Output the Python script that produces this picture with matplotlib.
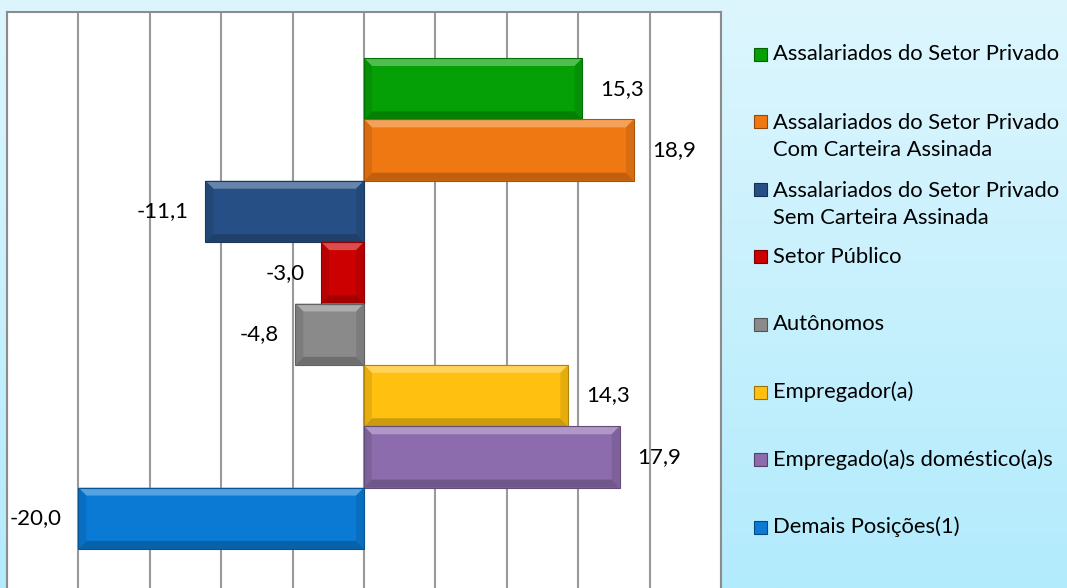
import numpy as np
import matplotlib
matplotlib.use("Agg")
import matplotlib.pyplot as plt
from matplotlib.patches import Polygon
from matplotlib import colors as mcolors

# dados (variação %)
categorias = ["Assalariados do Setor Privado",
              "Assalariados do Setor Privado\nCom Carteira Assinada",
              "Assalariados do Setor Privado\nSem Carteira Assinada",
              "Setor Público",
              "Autônomos",
              "Empregador(a)",
              "Empregado(a)s doméstico(a)s",
              "Demais Posições(1)"]
valores = [15.3, 18.9, -11.1, -3.0, -4.8, 14.3, 17.9, -20.0]
cores = ["#05A005", "#F07812", "#265085", "#CC0000",
         "#8A8A8A", "#FFC010", "#8C6CAC", "#0A7AD5"]
ticks_x = [-25, -20, -15, -10, -5, 0, 5, 10, 15, 20, 25]

plt.rcParams['font.family'] = ['Lato', 'DejaVu Sans']

W, H = 1067, 588
fig = plt.figure(figsize=(W / 100, H / 100), dpi=100)

# fundo em degradê
bg = fig.add_axes([0, 0, 1, 1], zorder=-10)
grad = np.linspace(0, 1, 256).reshape(-1, 1)
cmap = mcolors.LinearSegmentedColormap.from_list("bg", ["#DDF6FE", "#B2EBFC"])
bg.imshow(grad, aspect="auto", cmap=cmap, extent=[0, 1, 0, 1], origin="upper")
bg.axis("off")

# área do gráfico
left, right, top, bottom = 7, 721, 12, 595
ax = fig.add_axes([left / W, (H - bottom) / H, (right - left) / W, (bottom - top) / H])
ax.set_facecolor("white")

y = np.arange(len(valores))
ax.barh(y, valores, height=1.0, color=cores, zorder=3)

# efeito de chanfro (bevel)
bx = 0.55
by = 0.13
for yi, v, c in zip(y, valores, cores):
    rgb = np.array(mcolors.to_rgb(c))
    claro = np.clip(rgb + (1 - rgb) * 0.3, 0, 1)
    escuro = rgb * 0.8
    medio = rgb * 0.9
    x0, x1 = min(0, v), max(0, v)
    y0, y1 = yi - 0.5, yi + 0.5
    topo = [(x0, y0), (x1, y0), (x1 - bx, y0 + by), (x0 + bx, y0 + by)]
    base = [(x0, y1), (x1, y1), (x1 - bx, y1 - by), (x0 + bx, y1 - by)]
    esq = [(x0, y0), (x0 + bx, y0 + by), (x0 + bx, y1 - by), (x0, y1)]
    dir_ = [(x1, y0), (x1 - bx, y0 + by), (x1 - bx, y1 - by), (x1, y1)]
    ax.add_patch(Polygon(topo, closed=True, color=claro, zorder=4, lw=0))
    ax.add_patch(Polygon(base, closed=True, color=escuro, zorder=4, lw=0))
    ax.add_patch(Polygon(esq, closed=True, color=medio, zorder=4, lw=0))
    ax.add_patch(Polygon(dir_, closed=True, color=medio, zorder=4, lw=0))
    ax.add_patch(Polygon([(x0, y0), (x1, y0), (x1, y1), (x0, y1)], closed=True,
                         fill=False, ec=rgb * 0.7, lw=0.8, zorder=5))

# rótulos dos valores
for yi, v in zip(y, valores):
    txt = f"{v:.1f}".replace(".", ",")
    if v >= 0:
        ax.annotate(txt, (v, yi), xytext=(13, 0), textcoords="offset points",
                    ha="left", va="center", fontsize=16, color="black", zorder=6)
    else:
        ax.annotate(txt, (v, yi), xytext=(-12, 0), textcoords="offset points",
                    ha="right", va="center", fontsize=16, color="black", zorder=6,
                    annotation_clip=False)

ax.set_xlim(-25, 25)
ax.set_ylim(len(valores) - 1 + 1.25, -1.25)
ax.set_xticks(ticks_x)
ax.set_yticks([])
ax.xaxis.grid(True, color="#999999", linewidth=1.5, zorder=0)
ax.tick_params(axis="x", length=0, labelbottom=False)
for s in ax.spines.values():
    s.set_color("#8C8C8C")
    s.set_linewidth(1.5)

# legenda manual
for i, (cat, c) in enumerate(zip(categorias, cores)):
    yp = 54 + i * 67.6
    fy = (H - yp) / H
    fig.patches.append(plt.Rectangle((754 / W, fy - 6.5 / H), 13 / W, 13 / H,
                                     transform=fig.transFigure, facecolor=c,
                                     edgecolor=np.array(mcolors.to_rgb(c)) * 0.6,
                                     linewidth=0.8, figure=fig))
    nl = cat.count("\n")
    fig.text(773 / W, (H - yp - 15 * nl) / H, cat, ha="left", va="center",
             fontsize=15.8, linespacing=1.42, color="black")

fig.savefig("out.png", dpi=100)
